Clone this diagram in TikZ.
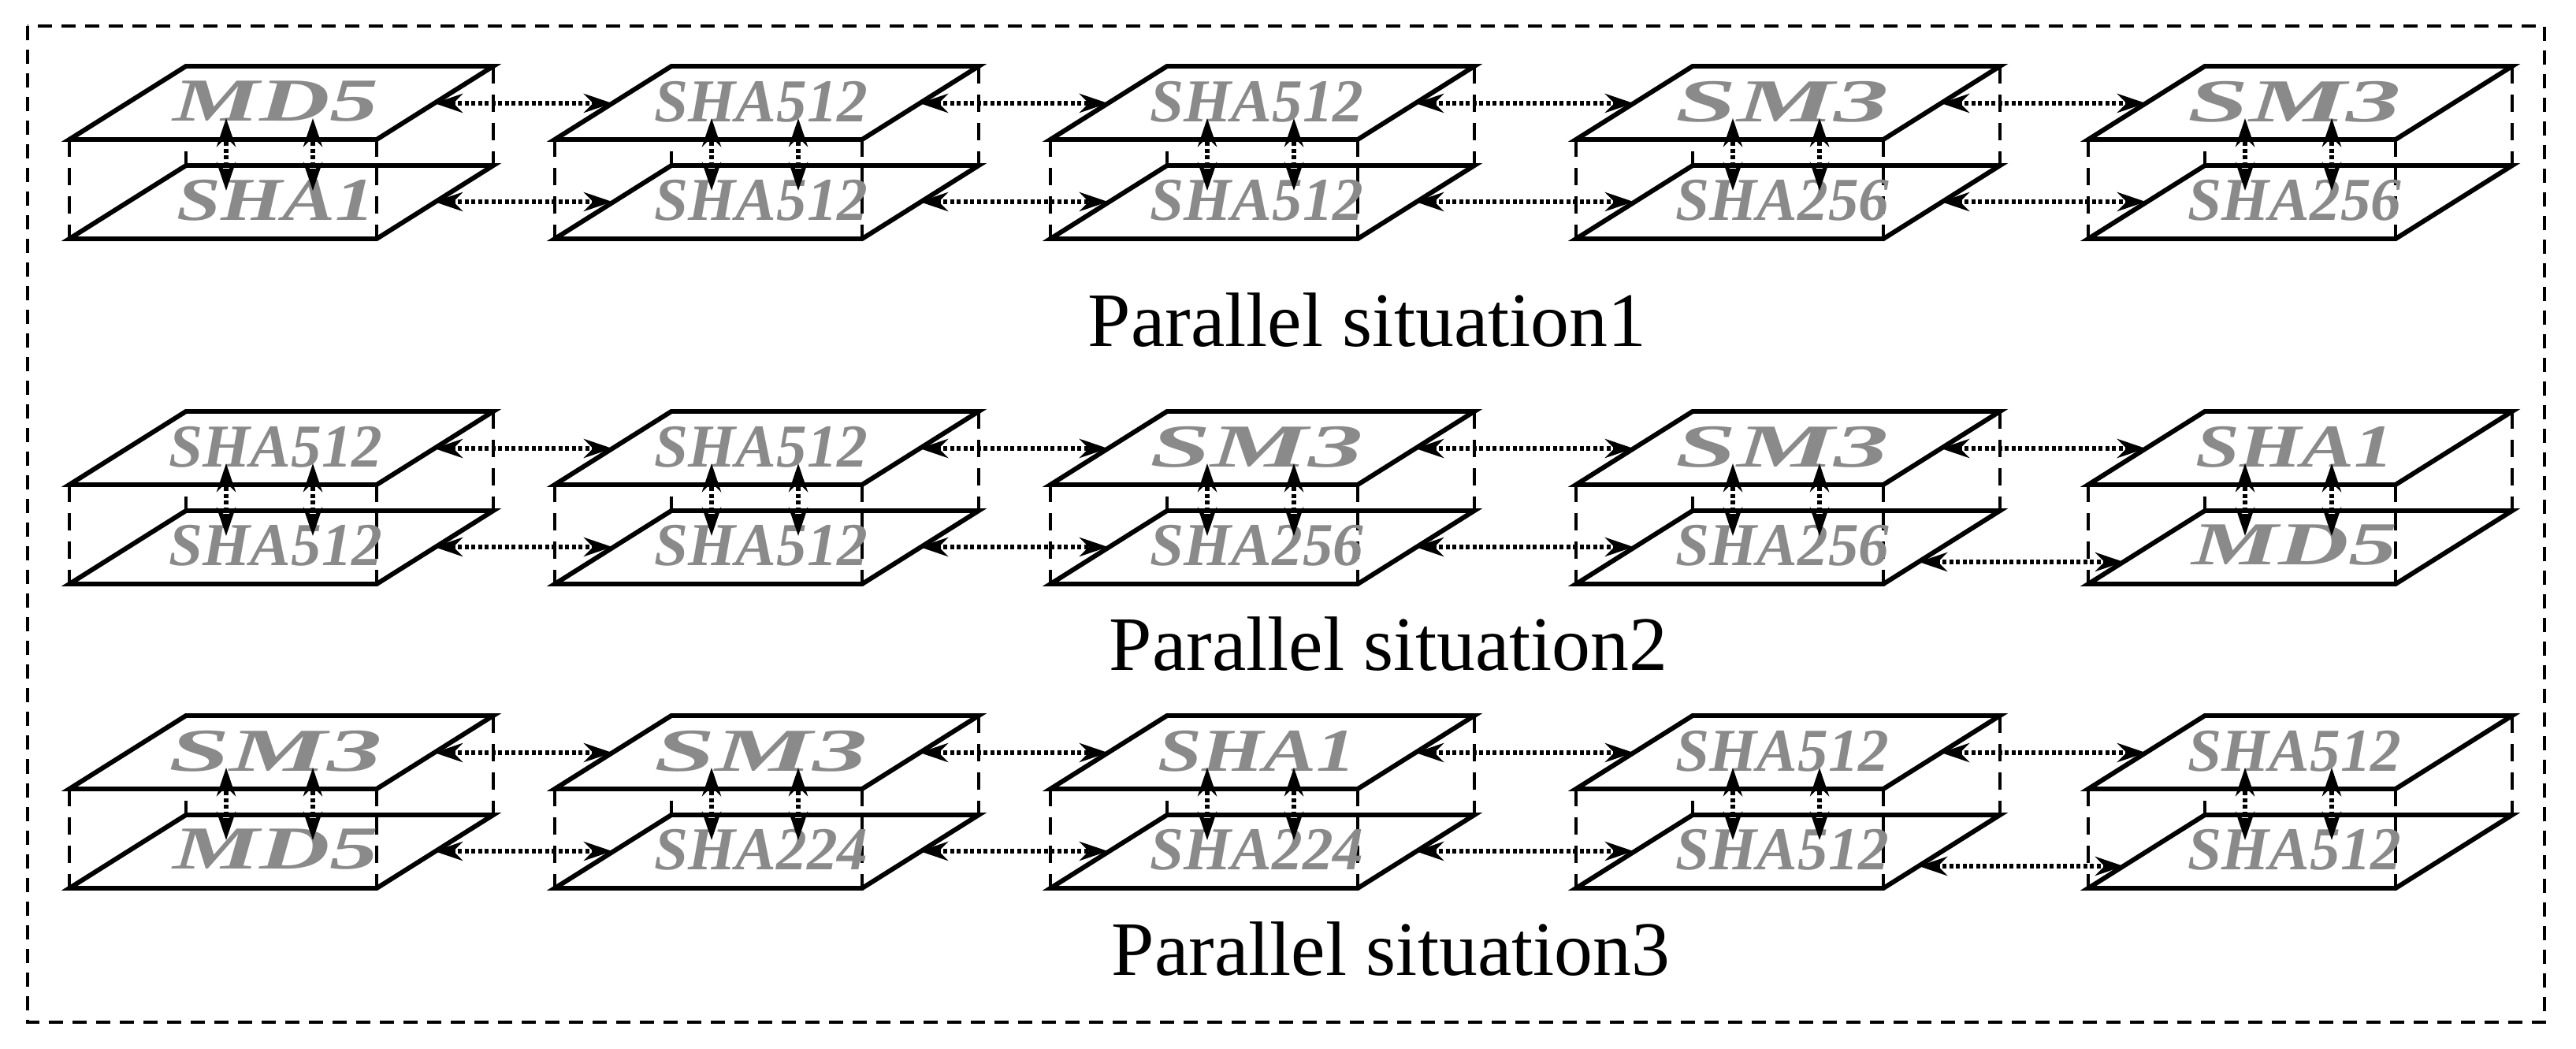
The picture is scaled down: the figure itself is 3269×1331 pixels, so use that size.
\documentclass[tikz,border=0pt]{standalone}
\usepackage{fontspec}
\setmainfont{Liberation Serif}
\usetikzlibrary{arrows.meta,calc}
\definecolor{lblgray}{HTML}{8A8A8A}
\tikzset{
  plate/.style={draw=black,fill=white,line width=1.7pt,line join=miter},
  edge/.style={draw=black,line width=1.1pt,dash pattern=on 0.22cm off 0.14cm},
  dbl/.style={line width=1.9pt,dash pattern=on 0.05cm off 0.035cm,{Stealth[length=0.36cm,width=0.24cm]}-{Stealth[length=0.36cm,width=0.24cm]}},
  alg/.style={text=lblgray,font=\fontsize{22}{22}\selectfont\bfseries\itshape,inner sep=0pt},
  title/.style={font=\fontsize{27.8}{30}\selectfont,inner sep=0pt},
  frame/.style={draw=black,line width=1.1pt,dash pattern=on 0.18cm off 0.12cm}
}
% #1 row, #2 col, #3 fl, #4 top, #5 top text, #6 sx, #7 bottom text, #8 sx
\newcommand{\hblk}[8]{%
  \pgfmathsetmacro{\ya}{#4}\pgfmathsetmacro{\yb}{#4+93}\pgfmathsetmacro{\yc}{#4+126}\pgfmathsetmacro{\yd}{#4+219}
  \draw[edge] (#3+148,\ya) -- (#3+148,\yc);
  \draw[edge] (#3+538,\ya) -- (#3+538,\yc);
  \draw[plate] (#3+148,\yc) -- (#3+538,\yc) -- (#3+390,\yd) -- (#3,\yd) -- cycle;
  \draw[edge] (#3,\yb) -- (#3,\yd);
  \draw[edge] (#3+390,\yb) -- (#3+390,\yd);
  \draw[plate] (#3+148,\ya) -- (#3+538,\ya) -- (#3+390,\yb) -- (#3,\yb) -- cycle;
  \coordinate (L#1#2u) at (#3+73,#4+47);
  \coordinate (R#1#2u) at (#3+463,#4+47);
  \coordinate (L#1#2d) at (#3+73,#4+172);
  \coordinate (R#1#2d) at (#3+463,#4+172);
  \coordinate (L#1#2e) at (#3+45,#4+191);
  \coordinate (R#1#2e) at (#3+435,#4+191);
  \coordinate (A#1#2) at (#3+199,#4+66);
  \coordinate (B#1#2) at (#3+199,#4+158);
  \coordinate (C#1#2) at (#3+309,#4+66);
  \coordinate (D#1#2) at (#3+309,#4+158);
  \node[alg] (T#1#2) at (#3+262,#4+45) {\scalebox{#6}[1]{#5}};
  \node[alg] (S#1#2) at (#3+262,#4+170) {\scalebox{#8}[1]{#7}};
  \draw[dbl] (A#1#2) -- (B#1#2);
  \draw[dbl] (C#1#2) -- (D#1#2);
}
\begin{document}
\begin{tikzpicture}[x=0.01cm,y=-0.01cm]
\useasboundingbox (0,0) rectangle (3269,1331);
\draw[frame] (35,33) rectangle (3229,1297);
\hblk{1}{1}{88}{84}{MD5}{1.6}{SHA1}{1.3}
\hblk{1}{2}{704}{84}{SHA512}{1}{SHA512}{1}
\hblk{1}{3}{1333}{84}{SHA512}{1}{SHA512}{1}
\hblk{1}{4}{2000}{84}{SM3}{1.8}{SHA256}{1}
\hblk{1}{5}{2650}{84}{SM3}{1.8}{SHA256}{1}
\hblk{2}{1}{88}{522}{SHA512}{1}{SHA512}{1}
\hblk{2}{2}{704}{522}{SHA512}{1}{SHA512}{1}
\hblk{2}{3}{1333}{522}{SM3}{1.8}{SHA256}{1}
\hblk{2}{4}{2000}{522}{SM3}{1.8}{SHA256}{1}
\hblk{2}{5}{2650}{522}{SHA1}{1.3}{MD5}{1.6}
\hblk{3}{1}{88}{908}{SM3}{1.8}{MD5}{1.6}
\hblk{3}{2}{704}{908}{SM3}{1.8}{SHA224}{1}
\hblk{3}{3}{1333}{908}{SHA1}{1.3}{SHA224}{1}
\hblk{3}{4}{2000}{908}{SHA512}{1}{SHA512}{1}
\hblk{3}{5}{2650}{908}{SHA512}{1}{SHA512}{1}
\foreach \r in {1,2,3}{
 \foreach \c [evaluate=\c as \n using int(\c+1)] in {1,2,3,4}{
  \draw[dbl] (R\r\c u) -- (L\r\n u);
 }
 \foreach \c [evaluate=\c as \n using int(\c+1)] in {1,2,3}{
  \draw[dbl] (R\r\c d) -- (L\r\n d);
 }
}
\draw[dbl] (R14d) -- (L15d);
\draw[dbl] (R24e) -- (L25e);
\draw[dbl] (R34e) -- (L35e);
\node[title] (p1) at (1735,406) {Parallel situation1};
\node[title] (p2) at (1762,817) {Parallel situation2};
\node[title] (p3) at (1765,1204) {Parallel situation3};
\end{tikzpicture}
\end{document}
